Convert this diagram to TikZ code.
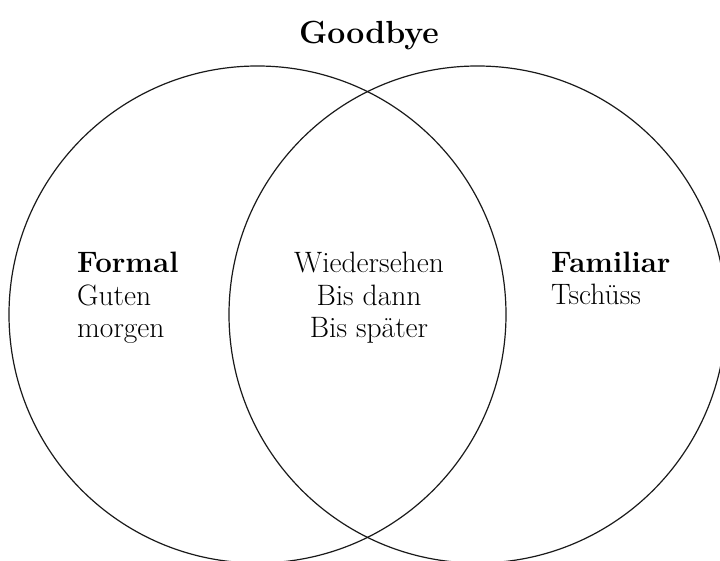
\documentclass[tikz,border=0pt]{standalone}
\begin{document}
\begin{tikzpicture}[x=1pt,y=-1pt,
  setcircle/.style={draw=black!90,line width=1.2pt},
  label/.style={inner sep=0pt,font=\fontsize{29.5}{32}\selectfont},
  titlelabel/.style={inner sep=0pt,font=\fontsize{32}{36}\selectfont\bfseries}]
\useasboundingbox[clip] (0,0) rectangle (720,561);
\draw[setcircle] (257.5,314.5) circle[radius=248.5];
\draw[setcircle] (477.5,314.5) circle[radius=248.5];
\node[titlelabel,anchor=base] (title) at (369,44) {Goodbye};
\node[label,anchor=base west,align=left] (formal) at (77,337) {\textbf{Formal}\\Guten\\morgen};
\node[label,anchor=base,align=center] (both) at (369,337) {Wiedersehen\\Bis dann\\Bis sp\"ater};
\node[label,anchor=base west,align=left] (familiar) at (551,305) {\textbf{Familiar}\\Tsch\"uss};
\end{tikzpicture}
\end{document}
